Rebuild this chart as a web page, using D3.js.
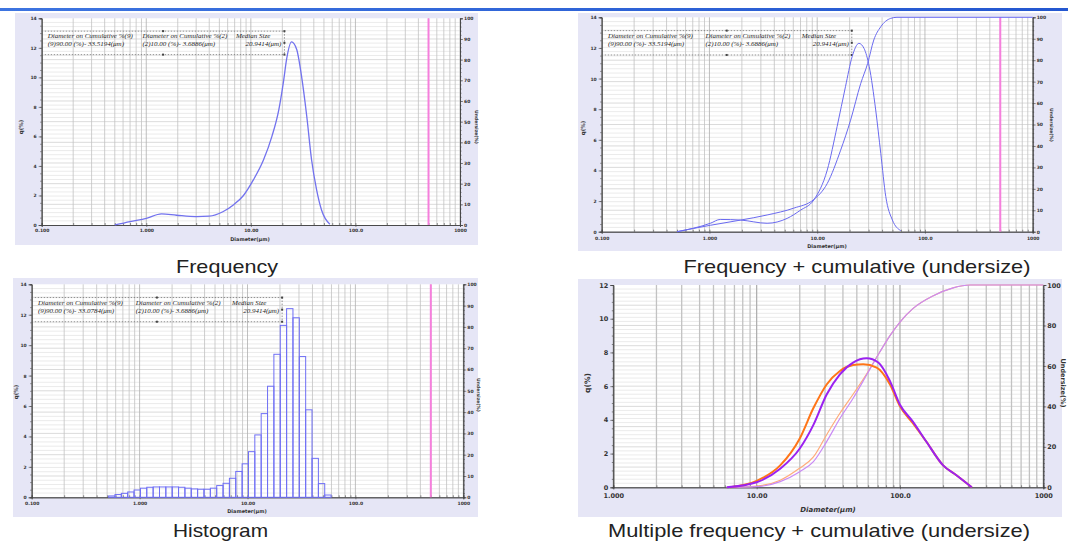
<!DOCTYPE html>
<html>
<head>
<meta charset="utf-8">
<script src="https://cdn.jsdelivr.net/npm/d3@7/dist/d3.min.js"></script>
<style>
body{margin:0;background:#fff;}
svg{display:block;}
</style>
</head>
<body>
<svg id="board" width="1068" height="541"></svg>
<script>
// panel 1 : frequency
var freqDiam = [0.5, 0.7, 1.0, 1.4, 1.95, 3.0, 4.0, 5.4, 6.8, 8.5, 10.6, 13.2, 15.9, 18.5, 20.5, 22, 24.5, 27.4, 30.5, 34.2, 38.1, 42.5, 47.5, 57];
var freqQ    = [0, 0.23, 0.45, 0.75, 0.66, 0.57, 0.6, 0.9, 1.36, 2.0, 3.07, 4.4, 6.0, 7.8, 9.7, 11.25, 12.4, 11.9, 10.1, 7.4, 4.4, 2.4, 1.0, 0.05];

// panel 2 : frequency + cumulative
var combDiam = [0.5, 1.02, 1.26, 1.94, 3.43, 5.26, 6.98, 9.29, 12.4, 15.3, 18.3, 21.1, 24.4, 27.2, 30.4, 34.9, 38.9, 43.3, 49.9, 59.6];
var combQ    = [0, 0.55, 0.8, 0.76, 0.55, 0.87, 1.4, 2.07, 4.03, 6.86, 9.47, 11.43, 12.3, 11.97, 10.78, 7.95, 5.12, 2.29, 0.76, 0.07];
var combCumDiam = [0.5, 1.02, 1.94, 3.43, 6.07, 9.3, 12.4, 16.5, 20.4, 25.3, 29.4, 33.5, 38.9, 48.1, 55, 1000];
var combCum     = [0, 3, 5.4, 7.8, 11, 15, 22.5, 38, 52, 69, 78.5, 89.4, 95.6, 99.5, 100, 100];

// panel 3 : histogram (bin edges in um, heights in %)
var histEdges = [0.516, 0.591, 0.677, 0.776, 0.888, 1.018, 1.165, 1.335, 1.529, 1.750, 2.005, 2.296, 2.630, 3.012, 3.449, 3.951, 4.525, 5.182, 5.935, 6.797, 7.784, 8.915, 10.21, 11.69, 13.39, 15.34, 17.56, 20.12, 23.04, 26.38, 30.22, 34.60, 39.63, 45.39, 51.97, 59.53];
var histQ = [0.09, 0.18, 0.26, 0.35, 0.48, 0.6, 0.66, 0.68, 0.68, 0.68, 0.68, 0.66, 0.6, 0.55, 0.53, 0.53, 0.6, 0.77, 0.92, 1.25, 1.7, 2.2, 3.0, 4.1, 5.5, 7.3, 9.4, 11.3, 12.4, 11.8, 9.25, 5.75, 2.56, 0.9, 0.15];

// panel 4 : multiple frequency + cumulative
var multiDiamA = [6.18, 10, 14.6, 20, 24.9, 30.8, 38.1, 47.1, 58.5, 70.6, 85.2, 100, 123, 153, 200, 249, 317];
var multiQA    = [0, 0.3, 1.1, 2.3, 3.7, 5.5, 6.7, 7.4, 7.65, 7.4, 6.3, 4.9, 3.9, 2.7, 1.3, 0.7, 0];
var multiDiamB = [6.52, 10, 14.6, 20, 24.9, 30.8, 38.1, 47.1, 55.4, 68.8, 85.2, 100, 123, 153, 200, 249, 317];
var multiQB    = [0, 0.38, 1.3, 2.9, 4.7, 6.1, 6.9, 7.25, 7.3, 7.1, 6.1, 4.8, 3.8, 2.7, 1.3, 0.7, 0];
var multiCumDiamA = [6.52, 10, 14.6, 20, 24.9, 30.8, 38.1, 47.1, 58.5, 72.5, 85.2, 100, 123, 171, 235, 309, 1000];
var multiCumA     = [0, 0.3, 2.8, 7.7, 12.7, 22.6, 34, 44, 55.5, 67, 75, 81.7, 88.3, 94.7, 98.6, 100, 100];
var multiCumDiamB = [6.18, 10, 14.6, 20, 24.9, 30.8, 38.1, 47.1, 58.5, 72.5, 85.2, 100, 123, 171, 235, 309, 1000];
var multiCumB     = [0, 0.6, 3.5, 9.5, 15, 26, 36.6, 46, 56, 67, 75, 81.7, 88.3, 94.7, 98.6, 100, 100];

// ticks and labels
var xTicksWide  = [0.1, 1, 10, 100, 1000];
var xLabelsWide = ["0.100", "1.000", "10.00", "100.0", "1000"];
var xTicksMulti  = [1, 10, 100, 1000];
var xLabelsMulti = ["1.000", "10.00", "100.0", "1000"];
var yTicks14 = [0, 2, 4, 6, 8, 10, 12, 14];
var yTicks12 = [0, 2, 4, 6, 8, 10, 12];
var rTicks10 = [0, 10, 20, 30, 40, 50, 60, 70, 80, 90, 100];
var rTicks20 = [0, 20, 40, 60, 80, 100];
var magentaAt = 500;
var medianAt = 20.9414;

var annoHead = ["Diameter on Cumulative %(9)", "Diameter on Cumulative %(2)", "Median Size"];
var annoVals1 = ["(9)90.00 (%)-  33.5194(\u03bcm)", "(2)10.00 (%)-  3.6886(\u03bcm)", "20.9414(\u03bcm)"];
var annoVals3 = ["(9)90.00 (%)-  33.0784(\u03bcm)", "(2)10.00 (%)-  3.6886(\u03bcm)", "20.9414(\u03bcm)"];

var captions = ["Frequency", "Frequency + cumulative (undersize)", "Histogram", "Multiple frequency + cumulative (undersize)"];

var board = d3.select("#board");

// top rule
var grad = board.append("defs").append("linearGradient").attr("id", "rule");
grad.append("stop").attr("offset", "0").attr("stop-color", "#3d74e0");
grad.append("stop").attr("offset", "1").attr("stop-color", "#2457d0");
board.append("rect").attr("x", 0).attr("y", 8).attr("width", 1068).attr("height", 3).attr("fill", "url(#rule)");

function zip(a, b) {
  return a.map(function(d, i) { return [d, b[i]]; });
}

function drawPanel(p)
{
  var g = board.append("g");
  g.append("rect")
    .attr("x", p.bg[0]).attr("y", p.bg[1])
    .attr("width", p.bg[2] - p.bg[0]).attr("height", p.bg[3] - p.bg[1])
    .attr("fill", "#e6e6f6");
  g.append("rect")
    .attr("x", p.left).attr("y", p.top)
    .attr("width", p.right - p.left).attr("height", p.bottom - p.top)
    .attr("fill", "#ffffff");

  var x = d3.scaleLog().domain(p.xDomain).range([p.left, p.right]);
  var y = d3.scaleLinear().domain([0, p.yMax]).range([p.bottom, p.top]);
  var y2 = d3.scaleLinear().domain([0, 100]).range([p.bottom, p.top]);

  // horizontal grid, every 2 % of the right axis
  g.append("g").selectAll("line").data(d3.range(2, 100, 2)).join("line")
    .attr("x1", p.left).attr("x2", p.right)
    .attr("y1", function(d) { return y2(d); }).attr("y2", function(d) { return y2(d); })
    .attr("stroke", function(d) { return d % 10 === 0 ? "#cbcbcb" : "#e2e2e2"; })
    .attr("stroke-width", 0.7);

  // vertical log grid
  g.append("g").selectAll("line").data(x.ticks()).join("line")
    .attr("x1", function(d) { return x(d); }).attr("x2", function(d) { return x(d); })
    .attr("y1", p.top).attr("y2", p.bottom)
    .attr("stroke", function(d) { return Math.abs(Math.log10(d) % 1) < 1e-6 ? "#b0b0b0" : "#c2c2c2"; })
    .attr("stroke-width", p.vgrid);

  var fs = p.fontSize;
  var left = g.append("g").attr("transform", "translate(" + p.left + ",0)")
    .call(d3.axisLeft(y).tickValues(p.yTicks).tickSize(3).tickPadding(2).tickFormat(d3.format("d")));
  g.append("g").attr("transform", "translate(" + p.left + ",0)")
    .call(d3.axisLeft(y).tickValues(d3.range(0, p.yMax + 0.01, 0.5)).tickSize(1.5).tickFormat(""));
  var right = g.append("g").attr("transform", "translate(" + p.right + ",0)")
    .call(d3.axisRight(y2).tickValues(p.rTicks).tickSize(3).tickPadding(1).tickFormat(d3.format("d")));
  g.append("g").attr("transform", "translate(" + p.right + ",0)")
    .call(d3.axisRight(y2).tickValues(d3.range(0, 101, 2)).tickSize(1.5).tickFormat(""));
  var bottom = g.append("g").attr("transform", "translate(0," + p.bottom + ")")
    .call(d3.axisBottom(x).tickValues(p.xTicks).tickSize(2).tickPadding(p.xPad)
      .tickFormat(function(d, i) { return p.xLabels[i]; }));
  g.append("g").attr("transform", "translate(0," + p.bottom + ")")
    .call(d3.axisBottom(x).tickValues(x.ticks()).tickSize(-2).tickFormat(""));

  g.selectAll(".domain").attr("stroke", "#444").attr("stroke-width", 0.8);
  g.selectAll(".tick line").attr("stroke", "#444").attr("stroke-width", 0.6);
  [left, right, bottom].forEach(function(a) {
    a.selectAll("text").attr("font-size", fs).attr("font-weight", "bold")
      .attr("font-family", "DejaVu Sans, sans-serif").attr("fill", "#333");
  });

  g.append("text").attr("transform", "translate(" + p.qTitle[0] + "," + p.qTitle[1] + ") rotate(-90)")
    .attr("text-anchor", "middle").attr("font-size", fs + 1).attr("font-weight", "bold")
    .attr("font-family", "DejaVu Sans, sans-serif").attr("fill", "#333").text("q(%)");
  g.append("text").attr("transform", "translate(" + p.uTitle[0] + "," + p.uTitle[1] + ") rotate(90)")
    .attr("text-anchor", "middle").attr("font-size", fs).attr("font-weight", "bold")
    .attr("font-family", "DejaVu Sans, sans-serif").attr("fill", "#333").text("Undersize(%)");
  g.append("text").attr("x", p.dTitle[0]).attr("y", p.dTitle[1])
    .attr("text-anchor", "middle").attr("font-size", fs + 0.5).attr("font-weight", "bold")
    .attr("font-style", p.italicTitle ? "italic" : "normal")
    .attr("font-family", "DejaVu Sans, sans-serif").attr("fill", "#333").text("Diameter(\u03bcm)");

  return {g: g, x: x, y: y, y2: y2};
}

function drawMagenta(P, p)
{
  P.g.append("line")
    .attr("x1", P.x(magentaAt)).attr("x2", P.x(magentaAt))
    .attr("y1", p.top).attr("y2", p.bottom)
    .attr("stroke", "#f57fdc").attr("stroke-width", 2);
}

function drawAnno(P, p, vals)
{
  var x0 = P.x(p.xDomain[0]), x1 = P.x(medianAt);
  var yt = P.y(13.13), yb = P.y(11.54), ym = P.y(12.34);
  var xm = (x0 + x1) / 2;
  var a = P.g.append("g");
  [yt, yb].forEach(function(yy) {
    a.append("line").attr("x1", x0).attr("x2", x1).attr("y1", yy).attr("y2", yy)
      .attr("stroke", "#666").attr("stroke-width", 0.7).attr("stroke-dasharray", "1.5,1.5");
    a.append("rect").attr("x", xm - 1).attr("y", yy - 1).attr("width", 2).attr("height", 2).attr("fill", "#444");
  });
  a.append("line").attr("x1", x1).attr("x2", x1).attr("y1", yt).attr("y2", yb)
    .attr("stroke", "#666").attr("stroke-width", 0.7).attr("stroke-dasharray", "1.5,1.5");
  [yt, ym, yb].forEach(function(yy) {
    a.append("rect").attr("x", x1 - 1).attr("y", yy - 1).attr("width", 2).attr("height", 2).attr("fill", "#444");
  });
  var w = x1 - x0;
  var cols = [x0 + w * 0.025, x0 + w * 0.415];
  var l1 = yt + (yb - yt) * 0.3, l2 = yt + (yb - yt) * 0.62;
  function t(xx, yy, s, anchor) {
    a.append("text").attr("x", xx).attr("y", yy).attr("text-anchor", anchor || "start")
      .attr("font-family", "Liberation Serif, serif").attr("font-style", "italic")
      .attr("font-size", 7).attr("fill", "#1e1e1e").text(s);
  }
  t(cols[0], l1, annoHead[0]);
  t(cols[1], l1, annoHead[1]);
  t(x0 + w * 0.8, l1, annoHead[2]);
  t(cols[0], l2, vals[0]);
  t(cols[1], l2, vals[1]);
  t(x1 - 3, l2, vals[2], "end");
}

var line = function(P, yscale) {
  return d3.line().curve(d3.curveMonotoneX)
    .x(function(d) { return P.x(d[0]); })
    .y(function(d) { return yscale(d[1]); });
};

// panel 1
var c1 = {bg: [15, 13, 478, 245], left: 41.7, right: 460, top: 18.3, bottom: 225,
  xDomain: [0.1, 1000], yMax: 14, yTicks: yTicks14, rTicks: rTicks10, xTicks: xTicksWide, xLabels: xLabelsWide,
  fontSize: 4.5, xPad: 2, vgrid: 0.8, qTitle: [23, 127], uTitle: [475, 127], dTitle: [250, 241], italicTitle: false};
var P1 = drawPanel(c1);
drawMagenta(P1, c1);
drawAnno(P1, c1, annoVals1);
P1.g.append("path").datum(zip(freqDiam, freqQ)).attr("d", line(P1, P1.y))
  .attr("fill", "none").attr("stroke", "#7272ee").attr("stroke-width", 1.3);

// panel 2
var c2 = {bg: [578, 13, 1062, 251], left: 601.7, right: 1032.7, top: 17.3, bottom: 231.7,
  xDomain: [0.1, 1000], yMax: 14, yTicks: yTicks14, rTicks: rTicks10, xTicks: xTicksWide, xLabels: xLabelsWide,
  fontSize: 4.5, xPad: 3, vgrid: 0.8, qTitle: [585, 128], uTitle: [1050, 125], dTitle: [827, 248], italicTitle: false};
var P2 = drawPanel(c2);
drawMagenta(P2, c2);
drawAnno(P2, c2, annoVals1);
P2.g.append("path").datum(zip(combCumDiam, combCum)).attr("d", line(P2, P2.y2))
  .attr("fill", "none").attr("stroke", "#6a6af0").attr("stroke-width", 1);
P2.g.append("path").datum(zip(combDiam, combQ)).attr("d", line(P2, P2.y))
  .attr("fill", "none").attr("stroke", "#6a6af0").attr("stroke-width", 1);

// panel 3
var c3 = {bg: [13, 278, 478, 517], left: 31.7, right: 463.3, top: 284.3, bottom: 497.3,
  xDomain: [0.1, 1000], yMax: 14, yTicks: yTicks14, rTicks: rTicks10, xTicks: xTicksWide, xLabels: xLabelsWide,
  fontSize: 4.5, xPad: 3, vgrid: 0.8, qTitle: [18, 392], uTitle: [477, 395], dTitle: [247, 513], italicTitle: false};
var P3 = drawPanel(c3);
drawMagenta(P3, c3);
drawAnno(P3, c3, annoVals3);
P3.g.append("g").selectAll("rect").data(histQ).join("rect")
  .attr("x", function(d, i) { return P3.x(histEdges[i]); })
  .attr("width", function(d, i) { return P3.x(histEdges[i + 1]) - P3.x(histEdges[i]); })
  .attr("y", function(d) { return P3.y(d); })
  .attr("height", function(d) { return P3.y(0) - P3.y(d); })
  .attr("fill", "none").attr("stroke", "#6f6ff5").attr("stroke-width", 1);

// panel 4
var c4 = {bg: [578, 279, 1062, 517], left: 613.3, right: 1043.3, top: 285, bottom: 487.3,
  xDomain: [1, 1000], yMax: 12, yTicks: yTicks12, rTicks: rTicks20, xTicks: xTicksMulti, xLabels: xLabelsMulti,
  fontSize: 6.5, xPad: 4, vgrid: 1.3, qTitle: [590, 383], uTitle: [1061, 383], dTitle: [828, 512], italicTitle: true};
var P4 = drawPanel(c4);
P4.g.append("path").datum(zip(multiCumDiamB, multiCumB)).attr("d", line(P4, P4.y2))
  .attr("fill", "none").attr("stroke", "#ffab7a").attr("stroke-width", 1.2);
P4.g.append("path").datum(zip(multiCumDiamA, multiCumA)).attr("d", line(P4, P4.y2))
  .attr("fill", "none").attr("stroke", "#c98af5").attr("stroke-width", 1.2);
P4.g.append("path").datum(zip(multiDiamB, multiQB)).attr("d", line(P4, P4.y))
  .attr("fill", "none").attr("stroke", "#ff7518").attr("stroke-width", 2);
P4.g.append("path").datum(zip(multiDiamA, multiQA)).attr("d", line(P4, P4.y))
  .attr("fill", "none").attr("stroke", "#9b22f0").attr("stroke-width", 2);

// captions
var capPos = [[227, 273], [857, 273], [220.5, 537], [819, 537]];
var capWidth = [102, 347, 95, 422];
board.selectAll("text.cap").data(captions).join("text")
  .attr("class", "cap")
  .attr("x", function(d, i) { return capPos[i][0]; })
  .attr("y", function(d, i) { return capPos[i][1]; })
  .attr("text-anchor", "middle")
  .attr("font-family", "Liberation Sans, Arial, sans-serif")
  .attr("font-size", 19).attr("fill", "#222")
  .attr("textLength", function(d, i) { return capWidth[i]; })
  .attr("lengthAdjust", "spacingAndGlyphs")
  .text(function(d) { return d; });
</script>
</body>
</html>
